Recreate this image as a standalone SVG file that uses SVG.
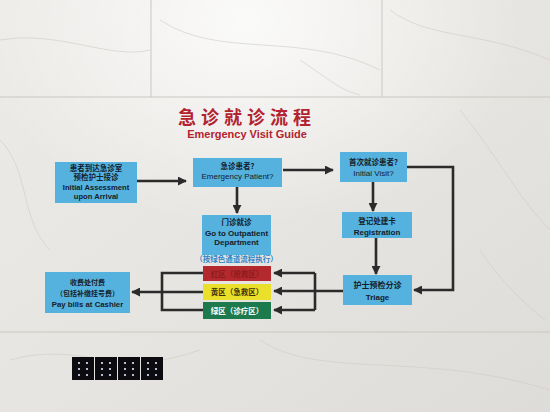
<svg xmlns="http://www.w3.org/2000/svg" width="550" height="412" viewBox="0 0 550 412">
<style>
.zh{font-family:"Noto Sans CJK SC","Noto Sans",sans-serif;font-weight:bold;text-anchor:middle;fill:#14202c}
.en{font-family:"Liberation Sans",Arial,sans-serif;font-weight:bold;text-anchor:middle;fill:#14202c}
.enr{font-family:"Liberation Sans",Arial,sans-serif;font-weight:normal;text-anchor:middle;fill:#14202c}
.box{fill:#55b2de}
.ln{fill:none;stroke:#2b2b2b;stroke-width:2.6;stroke-linejoin:miter}
.vein{fill:none;stroke:#cfccc7;stroke-width:1;opacity:0.6}
.seam{stroke:#cac7c2;stroke-width:1}
.sw{fill:#0c0c10}
.dot{fill:#dfe8ff}
</style>
<defs>
<linearGradient id="bg" x1="0" y1="0" x2="1" y2="1">
<stop offset="0" stop-color="#ecebe8"/>
<stop offset="0.5" stop-color="#e7e5e1"/>
<stop offset="1" stop-color="#dedcd8"/>
</linearGradient>
<radialGradient id="glow" cx="0.45" cy="0.05" r="0.5">
<stop offset="0" stop-color="#ffffff" stop-opacity="0.8"/>
<stop offset="1" stop-color="#ffffff" stop-opacity="0"/>
</radialGradient>
<marker id="ah" viewBox="0 0 10 10" refX="9" refY="5" markerWidth="9" markerHeight="9" markerUnits="userSpaceOnUse" orient="auto">
<path d="M0,0 L10,5 L0,10 Z" fill="#2b2b2b"/>
</marker>
</defs>
<g id="background">
<rect width="550" height="412" fill="url(#bg)"/>
<rect width="550" height="412" fill="url(#glow)"/>
<line class="seam" x1="0" y1="97" x2="550" y2="97"/>
<line class="seam" x1="0" y1="332" x2="550" y2="332"/>
<line class="seam" x1="151" y1="0" x2="151" y2="97"/>
<line class="seam" x1="382" y1="0" x2="382" y2="97"/>
<path class="vein" d="M0,40 C60,30 110,60 150,50 M160,20 C220,60 300,30 380,70 M390,10 C430,40 480,30 550,60 M0,140 C30,170 20,220 50,250 M460,110 C500,160 520,200 550,230 M10,360 C80,340 120,380 200,350 M260,340 C320,380 420,350 550,390 M480,250 C500,280 520,300 545,320 M300,60 C330,80 340,90 360,95"/>
</g>
<g id="title">
<text x="247" y="123.5" font-family="'Noto Sans CJK SC',sans-serif" font-weight="bold" font-size="18" letter-spacing="5" text-anchor="middle" fill="#b3232f">急诊就诊流程</text>
<text x="247" y="137.5" font-family="'Liberation Sans',Arial,sans-serif" font-weight="bold" font-size="11" text-anchor="middle" fill="#b3232f">Emergency Visit Guide</text>
</g>
<g id="connectors">
<line class="ln" x1="137" y1="181" x2="186" y2="181" marker-end="url(#ah)"/>
<line class="ln" x1="283" y1="170" x2="333" y2="170" marker-end="url(#ah)"/>
<line class="ln" x1="237" y1="187" x2="237" y2="213" marker-end="url(#ah)"/>
<line class="ln" x1="373" y1="182" x2="373" y2="211" marker-end="url(#ah)"/>
<line class="ln" x1="376" y1="238" x2="376" y2="274" marker-end="url(#ah)"/>
<path class="ln" d="M407,167 H453 V290 H414" marker-end="url(#ah)"/>
<line class="ln" x1="343" y1="291" x2="274" y2="291" marker-end="url(#ah)"/>
<path class="ln" d="M315,273 V310"/>
<line class="ln" x1="315" y1="273" x2="274" y2="273" marker-end="url(#ah)"/>
<line class="ln" x1="315" y1="310" x2="274" y2="310" marker-end="url(#ah)"/>
<path class="ln" d="M203,273 H162 V310 H203"/>
<line class="ln" x1="203" y1="292" x2="132" y2="292" marker-end="url(#ah)"/>
</g>
<g id="arrival">
<rect class="box" x="55" y="162" width="82" height="41"/>
<text class="zh" x="96" y="170.5" font-size="7.5">患者到达急诊室</text>
<text class="zh" x="96" y="180" font-size="7.5">预检护士接诊</text>
<text class="en" x="96" y="189.5" font-size="7.6">Initial Assessment</text>
<text class="en" x="96" y="198.5" font-size="7.6">upon Arrival</text>
</g>
<g id="emergency">
<rect class="box" x="193" y="158" width="89" height="29"/>
<text class="zh" x="237.5" y="169" font-size="7.5">急诊患者?</text>
<text class="enr" x="237.5" y="179" font-size="8">Emergency Patient?</text>
</g>
<g id="initial">
<rect class="box" x="340" y="152" width="67" height="30"/>
<text class="zh" x="373.5" y="165" font-size="7.5">首次就诊患者?</text>
<text class="enr" x="373.5" y="175.5" font-size="8">Initial Visit?</text>
</g>
<g id="outpatient">
<rect class="box" x="202" y="215" width="69" height="40"/>
<text class="zh" x="236.5" y="224.5" font-size="7.5">门诊就诊</text>
<text class="en" x="236.5" y="235.5" font-size="8">Go to Outpatient</text>
<text class="en" x="236.5" y="245" font-size="8">Department</text>
<text x="236.5" y="261.5" font-family="'Noto Sans CJK SC',sans-serif" font-weight="bold" font-size="7.5" text-anchor="middle" fill="#2f86c8">（按绿色通道流程执行）</text>
</g>
<g id="registration">
<rect class="box" x="342" y="212" width="70" height="26"/>
<text class="zh" x="377" y="224" font-size="7.5">登记处建卡</text>
<text class="en" x="377" y="234.5" font-size="8">Registration</text>
</g>
<g id="triage">
<rect class="box" x="343" y="275" width="69" height="30"/>
<text class="zh" x="377.5" y="288" font-size="8">护士预检分诊</text>
<text class="en" x="377.5" y="300" font-size="8">Triage</text>
</g>
<g id="red-zone">
<rect x="203" y="266" width="68" height="15" fill="#b3292d"/>
<text class="zh" x="237" y="276.5" font-size="7.5" style="fill:#8a1d1f">红区（抢救区）</text>
</g>
<g id="yellow-zone">
<rect x="203" y="284" width="68" height="16" fill="#eadf2a"/>
<text class="zh" x="237" y="295" font-size="7.5" style="fill:#3a3208">黄区（急救区）</text>
</g>
<g id="green-zone">
<rect x="203" y="302" width="68" height="17" fill="#1d7a4c"/>
<text class="zh" x="237" y="313.5" font-size="7.5" style="fill:#ffffff">绿区（诊疗区）</text>
</g>
<g id="cashier">
<rect class="box" x="45" y="272" width="85" height="41"/>
<text class="zh" x="87.5" y="285" font-size="7">收费处付费</text>
<text class="zh" x="87.5" y="295.5" font-size="7">（包括补缴挂号费）</text>
<text class="en" x="87.5" y="306.5" font-size="7.8">Pay bills at Cashier</text>
</g>
<g id="switches">
<rect class="sw" x="72" y="357" width="22" height="23"/>
<rect class="sw" x="95" y="357" width="22" height="23"/>
<rect class="sw" x="118" y="357" width="22" height="23"/>
<rect class="sw" x="141" y="357" width="22" height="23"/>
<g class="dot">
<circle cx="79" cy="363" r="1.1"/><circle cx="87" cy="363" r="1.1"/><circle cx="79" cy="369" r="1.1"/><circle cx="87" cy="369" r="1.1"/><circle cx="79" cy="375" r="1.1"/><circle cx="87" cy="375" r="1.1"/>
<circle cx="102" cy="363" r="1.1"/><circle cx="110" cy="363" r="1.1"/><circle cx="102" cy="369" r="1.1"/><circle cx="110" cy="369" r="1.1"/><circle cx="102" cy="375" r="1.1"/><circle cx="110" cy="375" r="1.1"/>
<circle cx="125" cy="363" r="1.1"/><circle cx="133" cy="363" r="1.1"/><circle cx="125" cy="369" r="1.1"/><circle cx="133" cy="369" r="1.1"/><circle cx="125" cy="375" r="1.1"/><circle cx="133" cy="375" r="1.1"/>
<circle cx="148" cy="363" r="1.1"/><circle cx="156" cy="363" r="1.1"/><circle cx="148" cy="369" r="1.1"/><circle cx="156" cy="369" r="1.1"/><circle cx="148" cy="375" r="1.1"/><circle cx="156" cy="375" r="1.1"/>
</g>
</g>
</svg>
